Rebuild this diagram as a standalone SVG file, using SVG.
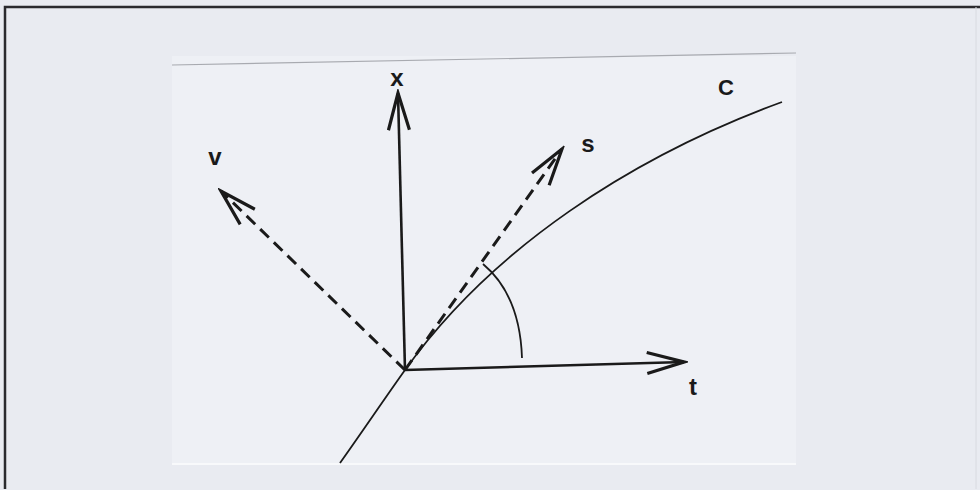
<svg xmlns="http://www.w3.org/2000/svg" width="980" height="490" viewBox="0 0 980 490">
  <defs>
    <marker id="head" viewBox="-42 -15 46 30" markerWidth="46" markerHeight="30" markerUnits="userSpaceOnUse" refX="0" refY="0" orient="auto">
      <path d="M-37,-10.5 L0,0 L-37,10.5" fill="none" stroke="#1a1a1a" stroke-width="3.2" stroke-linejoin="miter"/>
    </marker>
  </defs>
  <style>
    .axis { fill: none; stroke: #1a1a1a; stroke-width: 2.6; }
    .dash { fill: none; stroke: #1a1a1a; stroke-width: 3; stroke-dasharray: 12 7; }
    .thin { fill: none; stroke: #1a1a1a; stroke-width: 1.8; }
    .lbl { font-family: "Liberation Sans", Arial, sans-serif; font-size: 24px; font-weight: bold; fill: #1a1a1a; text-anchor: middle; }
  </style>
  <rect x="0" y="0" width="980" height="490" fill="#e9ebf1"/>
  <rect x="172" y="56" width="624" height="408" fill="#eef0f5"/>
  <path d="M172,65 L796,53" stroke="#a8aab0" stroke-width="1.2" fill="none"/>
  <path d="M172,464 L796,464" stroke="#f8f9fb" stroke-width="2" fill="none"/>
  <path d="M5,489 L5,7 L980,7" stroke="#2a2a2e" stroke-width="2.5" fill="none"/>
  <path d="M976,7 L976,489" stroke="#d8dae0" stroke-width="1" fill="none"/>

  <g id="connectors">
    <g id="axis-x"><path class="axis" d="M405,370 L398,93" marker-end="url(#head)"/></g>
    <g id="axis-t"><path class="axis" d="M405,370 L684,362" marker-end="url(#head)"/></g>
    <g id="axis-s"><path class="dash" d="M405,370 L562,149" marker-end="url(#head)"/></g>
    <g id="axis-v"><path class="dash" d="M405,370 L221,191" marker-end="url(#head)"/></g>
    <g id="curve-c"><path class="thin" d="M340,463 C360,435 385,398 405,370 C492,248 632,157 782,102"/></g>
    <g id="angle"><path class="thin" d="M483,264 Q520,295 522,358"/></g>
  </g>

  <g id="label-x"><text class="lbl" x="397" y="86">x</text></g>
  <g id="label-t"><text class="lbl" x="693" y="395">t</text></g>
  <g id="label-s"><text class="lbl" x="588" y="152">s</text></g>
  <g id="label-v"><text class="lbl" x="215" y="165">v</text></g>
  <g id="label-c"><text class="lbl" x="726" y="95" style="font-size:22px">C</text></g>
</svg>
